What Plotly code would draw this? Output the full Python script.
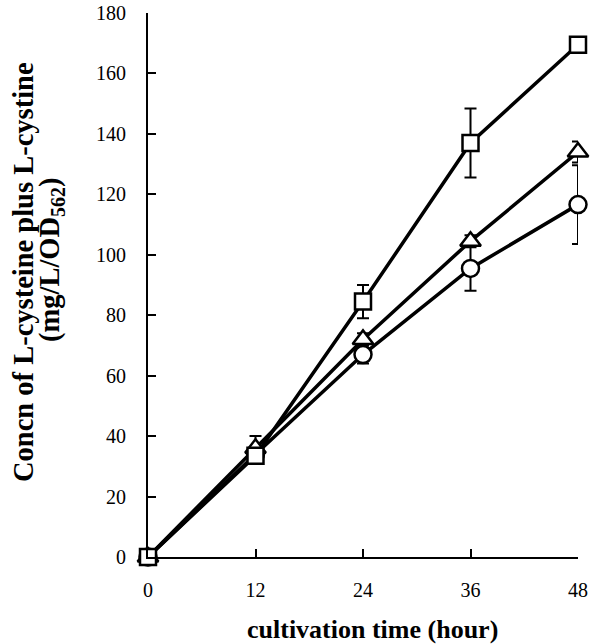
import plotly.graph_objects as go

hours = [0, 12, 24, 36, 48]
square_vals = [0, 33.5, 84.5, 137, 169.5]
square_err = [0, 1.5, 5.5, 11.4, 1]
triangle_vals = [0, 36, 72, 104.5, 134]
triangle_err = [0, 4, 2, 2, 3.5]
circle_vals = [0, 34, 67, 95.5, 116.6]
circle_err = [0, 2, 3, 7.4, 13]
x_ticks = [0, 12, 24, 36, 48]
y_ticks = [0, 20, 40, 60, 80, 100, 120, 140, 160, 180]

FONT = "Times New Roman, Liberation Serif, serif"

W, H = 600, 644
L, R, T, B = 148, 22, 13, 87
PW, PH = W - L - R, H - T - B

fig = go.Figure()

def add(vals, err, symbol, size):
    fig.add_trace(go.Scatter(
        x=hours, y=vals, mode="lines+markers",
        line=dict(color="black", width=3.5),
        marker=dict(symbol=symbol, size=size, color="white",
                    line=dict(color="black", width=2.5)),
        error_y=dict(type="data", array=err, visible=True, color="black",
                     thickness=2, width=6),
        cliponaxis=False, showlegend=False))

add(circle_vals, circle_err, "circle", 17)
add(triangle_vals, triangle_err, "triangle-up", 18)
add(square_vals, square_err, "square", 16)

fig.update_layout(
    width=W, height=H,
    margin=dict(l=L, r=R, t=T, b=B, autoexpand=False),
    plot_bgcolor="white", paper_bgcolor="white",
    font=dict(family=FONT, color="black", size=20),
    xaxis=dict(range=[0, 48], tickvals=x_ticks, ticks="inside", ticklen=8,
               tickwidth=2, tickcolor="black", showline=True, linecolor="black",
               linewidth=2, showgrid=False, zeroline=False, automargin=False,
               ticklabeloverflow="allow",
               tickfont=dict(size=20, family=FONT), ticklabelstandoff=14),
    yaxis=dict(range=[0, 180], tickvals=y_ticks, ticks="inside", ticklen=8,
               tickwidth=2, tickcolor="black", showline=True, linecolor="black",
               linewidth=2, showgrid=False, zeroline=False, automargin=False,
               ticklabeloverflow="allow",
               tickfont=dict(size=20, family=FONT), ticklabelstandoff=16),
)

def px_x(page_x):
    return (page_x - L) / PW

def px_y(page_y):
    return (H - B - page_y) / PH

fig.add_annotation(
    text="<b>Concn of L-cysteine plus L-cystine</b>",
    textangle=-90, xref="paper", yref="paper", x=px_x(23), y=px_y(272),
    xanchor="center", yanchor="middle", showarrow=False,
    font=dict(size=28.5, family=FONT))
fig.add_annotation(
    text="<b>(mg/L/OD<sub>562</sub>)</b>",
    textangle=-90, xref="paper", yref="paper", x=px_x(51), y=px_y(260),
    xanchor="center", yanchor="middle", showarrow=False,
    font=dict(size=28.5, family=FONT))
fig.add_annotation(
    text="<b>cultivation time (hour)</b>",
    xref="paper", yref="paper", x=px_x(372), y=px_y(629),
    xanchor="center", yanchor="middle", showarrow=False,
    font=dict(size=26, family=FONT))

fig.write_html("out.html", config={"displayModeBar": False},
               post_script="document.body.style.margin='0';document.body.style.overflow='hidden';")
